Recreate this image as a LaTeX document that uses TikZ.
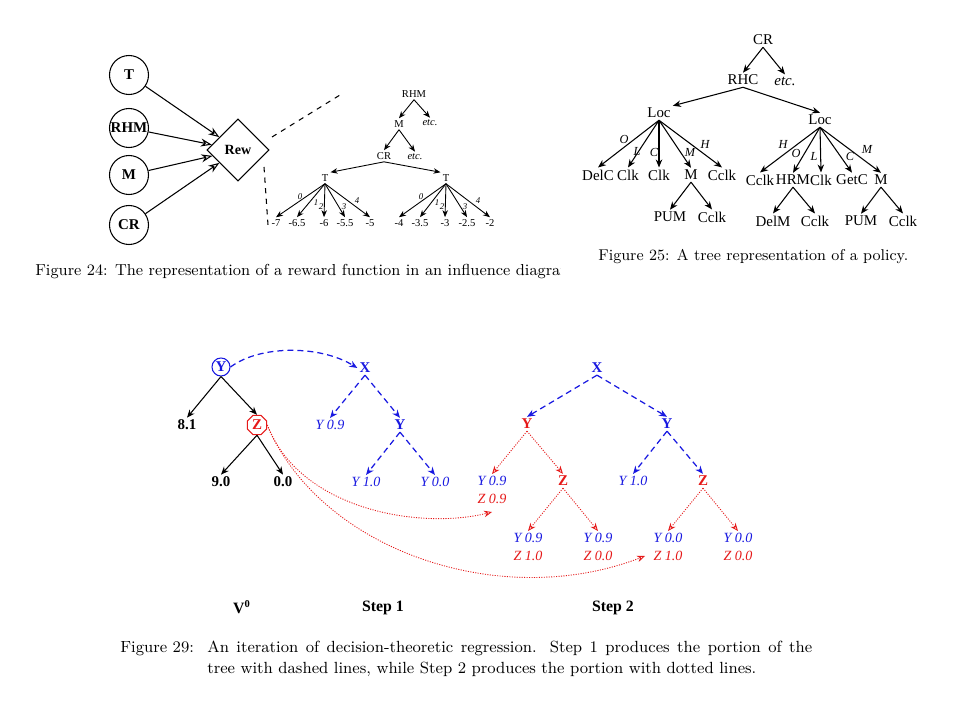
\documentclass[tikz,border=0pt]{standalone}
\usepackage{fontspec}
\newfontfamily\tms{Liberation Serif}
\usetikzlibrary{arrows.meta,shapes.geometric}
\definecolor{regblue}{RGB}{25,25,225}
\definecolor{regred}{RGB}{230,25,25}

\begin{document}
\begin{tikzpicture}[x=0.2mm,y=-0.2mm,line width=0.6pt,
  every node/.style={inner sep=1pt},
  figcap/.style={font=\fontsize{9.2}{11}\selectfont,anchor=base west},
  inf/.style={draw,circle,minimum size=7.8mm,inner sep=0pt,font=\tms\bfseries\fontsize{8.5}{9}\selectfont},
  rewbox/.style={draw,diamond,aspect=1,minimum width=12.4mm,minimum height=12.4mm,inner sep=0pt,font=\tms\bfseries\fontsize{8}{9}\selectfont},
  infarr/.style={-{Stealth[open,length=2.2mm,width=1.6mm]}},
  rt/.style={font=\tms\fontsize{6}{7}\selectfont},
  rtetc/.style={font=\tms\itshape\fontsize{6}{7}\selectfont},
  rlab/.style={font=\tms\itshape\fontsize{5}{6}\selectfont,inner sep=0pt},
  rarr/.style={line width=0.5pt,-{Stealth[length=1.4mm,width=1.1mm]}},
  pol/.style={font=\tms\fontsize{8.5}{9}\selectfont},
  poletc/.style={font=\tms\itshape\fontsize{8.5}{9}\selectfont},
  plab/.style={font=\tms\itshape\fontsize{7}{8}\selectfont,inner sep=0pt},
  parr/.style={line width=0.6pt,-{Stealth[length=1.6mm,width=1.3mm]}},
  bnum/.style={font=\tms\bfseries\fontsize{8.5}{9}\selectfont},
  bvar/.style={font=\tms\bfseries\fontsize{8.5}{9}\selectfont},
  ival/.style={font=\tms\itshape\fontsize{8}{10.2}\selectfont,align=center},
  stagelab/.style={font=\tms\bfseries\fontsize{9}{10}\selectfont},
  solarr/.style={line width=0.6pt,-{Stealth[length=1.6mm,width=1.3mm]}},
  dasharr/.style={regblue,line width=0.7pt,dash pattern=on 3.4pt off 2.3pt,-{Stealth[open,length=1.6mm,width=1.3mm]}},
  dotarr/.style={regred,line width=0.5pt,dash pattern=on 0.6pt off 0.8pt,-{Stealth[open,length=1.6mm,width=1.3mm]}}]
  \fill[white] (0,0) rectangle (960,720);
  \useasboundingbox (0,0) rectangle (960,720);

  % figure 24: influence diagram
  \node[inf] (t) at (129,75) {T};
  \node[inf] (rhm) at (129,128) {RHM};
  \node[inf] (m) at (129,175) {M};
  \node[inf] (cr) at (129,225) {CR};
  \node[rewbox] (rew) at (238,150) {Rew};
  \foreach \n in {t,rhm,m,cr}
    \draw[infarr] (\n) -- (rew);
  \coordinate (zoomtop) at (340,95);
  \coordinate (zoombot) at (268,225);
  \draw[dashed] (272,137) -- (zoomtop);
  \draw[dashed] (264,167) -- (zoombot);

  % reward tree
  \node[rt] (rhmr) at (414,94) {RHM};
  \node[rt] (mr) at (399,124) {M};
  \node[rtetc] (etcr1) at (430,123) {etc.};
  \node[rt] (crr) at (384,156) {CR};
  \node[rtetc] (etcr2) at (415,157) {etc.};
  \node[rt] (tl) at (325,178) {T};
  \node[rt] (tr) at (446,178) {T};
  \draw[rarr] (rhmr.south) -- (mr.north);
  \draw[rarr] (rhmr.south) -- (etcr1.north);
  \draw[rarr] (mr.south) -- (crr.north);
  \draw[rarr] (mr.south) -- (etcr2.north);
  \draw[rarr] (crr.south) -- (tl.north east);
  \draw[rarr] (crr.south) -- (tr.north west);
  \foreach \v/\x [count=\i from 0] in {-7/276,-6.5/297,-6/324,-5.5/345,-5/370} {
    \node[rt] (lv\i) at (\x,223) {\v};
    \draw[rarr] (tl.south) -- (lv\i.north);
  }
  \foreach \v/\x [count=\i from 0] in {-4/399,-3.5/420,-3/445,-2.5/467,-2/490} {
    \node[rt] (rv\i) at (\x,223) {\v};
    \draw[rarr] (tr.south) -- (rv\i.north);
  }
  \foreach \x/\y [count=\i from 0] in {300/197,316/203,321/207,344/207,357/201} {
    \node[rlab] (le\i) at (\x,\y) {\i};
    \node[rlab] (re\i) at (\x+121,\y) {\i};
  }
  \begin{scope}
    \clip (0,250) rectangle (560,290);
    \node[figcap,font=\fontsize{9.05}{11}\selectfont] (cap24) at (33,275) {Figure 24: The representation of a reward function in an influence diagram.};
  \end{scope}

  % figure 25: policy tree
  \node[pol] (crp) at (763,40) {CR};
  \node[pol] (rhc) at (743,80) {RHC};
  \node[poletc] (etcp) at (785,81) {etc.};
  \node[pol] (locl) at (659,113) {Loc};
  \node[pol] (locr) at (820,120) {Loc};
  \draw[parr] (crp.south) -- (rhc.north);
  \draw[parr] (crp.south) -- (etcp.north);
  \draw[parr] (rhc.south) -- (locl.north east);
  \draw[parr] (rhc.south) -- (locr.north);
  \foreach \lab/\x [count=\i] in {DelC/598,Clk/628,Clk/659,M/691,Cclk/722} {
    \node[pol] (pl\i) at (\x,175) {\lab};
    \draw[parr] (locl.south) -- (pl\i.north);
  }
  \foreach \lab/\x [count=\i] in {Cclk/760,HRM/793,Clk/821,GetC/852,M/881} {
    \node[pol] (pr\i) at (\x,180) {\lab};
    \draw[parr] (locr.south) -- (pr\i.north);
  }
  \foreach \lab/\x/\y [count=\i] in {O/624/139,L/637/151,C/654/152,M/690/152,H/705/144} {
    \node[plab] (pel\i) at (\x,\y) {\lab};
  }
  \foreach \lab/\x/\y [count=\i] in {H/783/144,O/796/153,L/814/156,C/850/156,M/867/149} {
    \node[plab] (per\i) at (\x,\y) {\lab};
  }
  \node[pol] (pum1) at (670,217) {PUM};
  \node[pol] (cclk1) at (712,217) {Cclk};
  \node[pol] (delm) at (773,221) {DelM};
  \node[pol] (cclk2) at (815,221) {Cclk};
  \node[pol] (pum2) at (861,221) {PUM};
  \node[pol] (cclk3) at (903,221) {Cclk};
  \foreach \a/\b in {pl4/pum1,pl4/cclk1,pr2/delm,pr2/cclk2,pr5/pum2,pr5/cclk3}
    \draw[parr] (\a.south) -- (\b.north);
  \node[figcap,font=\fontsize{8.9}{11}\selectfont] (cap25) at (596,260) {Figure 25: A tree representation of a policy.};

  % figure 29: regression
  \node[draw=regblue,circle,minimum size=3.6mm,inner sep=0pt,text=regblue,bvar] (yc) at (221,367) {Y};
  \node[draw=regred,regular polygon,regular polygon sides=8,minimum size=4.2mm,inner sep=0pt,text=regred,bvar] (zc) at (257,425) {Z};
  \node[bnum] (n81) at (187,425) {8.1};
  \node[bnum] (n90) at (221,482) {9.0};
  \node[bnum] (n00) at (283,482) {0.0};
  \draw[solarr] (yc.south) -- (n81.north);
  \draw[solarr] (yc.south) -- (zc.north);
  \draw[solarr] (zc.south) -- (n90.north);
  \draw[solarr] (zc.south) -- (n00.north);

  % step 1
  \node[bvar,text=regblue] (xa) at (365,368) {X};
  \node[ival,text=regblue] (ya09) at (330,425) {Y 0.9};
  \node[bvar,text=regblue] (ya) at (400,425) {Y};
  \node[ival,text=regblue] (ya10) at (366,482) {Y 1.0};
  \node[ival,text=regblue] (ya00) at (435,482) {Y 0.0};
  \draw[dasharr] (yc.east) .. controls (260,345) and (320,345) .. (xa.west);
  \draw[dasharr] (xa.south) -- (ya09.north);
  \draw[dasharr] (xa.south) -- (ya.north);
  \draw[dasharr] (ya.south) -- (ya10.north);
  \draw[dasharr] (ya.south) -- (ya00.north);

  % step 2
  \node[bvar,text=regblue] (xb) at (597,368) {X};
  \node[bvar,text=regred] (yr) at (527,424) {Y};
  \node[bvar,text=regblue] (yb) at (667,424) {Y};
  \node[ival] (s2a) at (492,490) {\textcolor{regblue}{Y 0.9}\\\textcolor{regred}{Z 0.9}};
  \node[bvar,text=regred] (zr1) at (563,481) {Z};
  \node[ival,text=regblue] (yb10) at (633,481) {Y 1.0};
  \node[bvar,text=regred] (zr2) at (703,481) {Z};
  \draw[dasharr] (xb.south) -- (yr.north);
  \draw[dasharr] (xb.south) -- (yb.north);
  \draw[dotarr] (yr.south) -- (s2a.north);
  \draw[dotarr] (yr.south) -- (zr1.north);
  \draw[dasharr] (yb.south) -- (yb10.north);
  \draw[dasharr] (yb.south) -- (zr2.north);
  \foreach \x/\yv/\zv/\pn [count=\i] in {528/0.9/1.0/zr1,598/0.9/0.0/zr1,668/0.0/1.0/zr2,738/0.0/0.0/zr2} {
    \node[ival] (s2l\i) at (\x,547) {\textcolor{regblue}{Y \yv}\\\textcolor{regred}{Z \zv}};
    \draw[dotarr] (\pn.south) -- (s2l\i.north);
  }
  \coordinate (tipa) at (492,512);
  \coordinate (tipc) at (645,556);
  \draw[dotarr] (zc.east) .. controls (300,510) and (420,530) .. (tipa);
  \draw[dotarr] (zc.east) .. controls (320,550) and (500,612) .. (tipc);

  \node[stagelab] (v0) at (242,607) {V\textsuperscript{0}};
  \node[stagelab] (st1) at (383,608) {Step 1};
  \node[stagelab] (st2) at (613,608) {Step 2};

  \node[figcap] (cap29a) at (118,652) {Figure 29:};
  \node[figcap] (cap29b) at (205,652) {\hbox to 121mm{An iteration of decision-theoretic regression. Step 1 produces the portion of the}};
  \node[figcap] (cap29c) at (205,673) {tree with dashed lines, while Step 2 produces the portion with dotted lines.};
\end{tikzpicture}
\end{document}
